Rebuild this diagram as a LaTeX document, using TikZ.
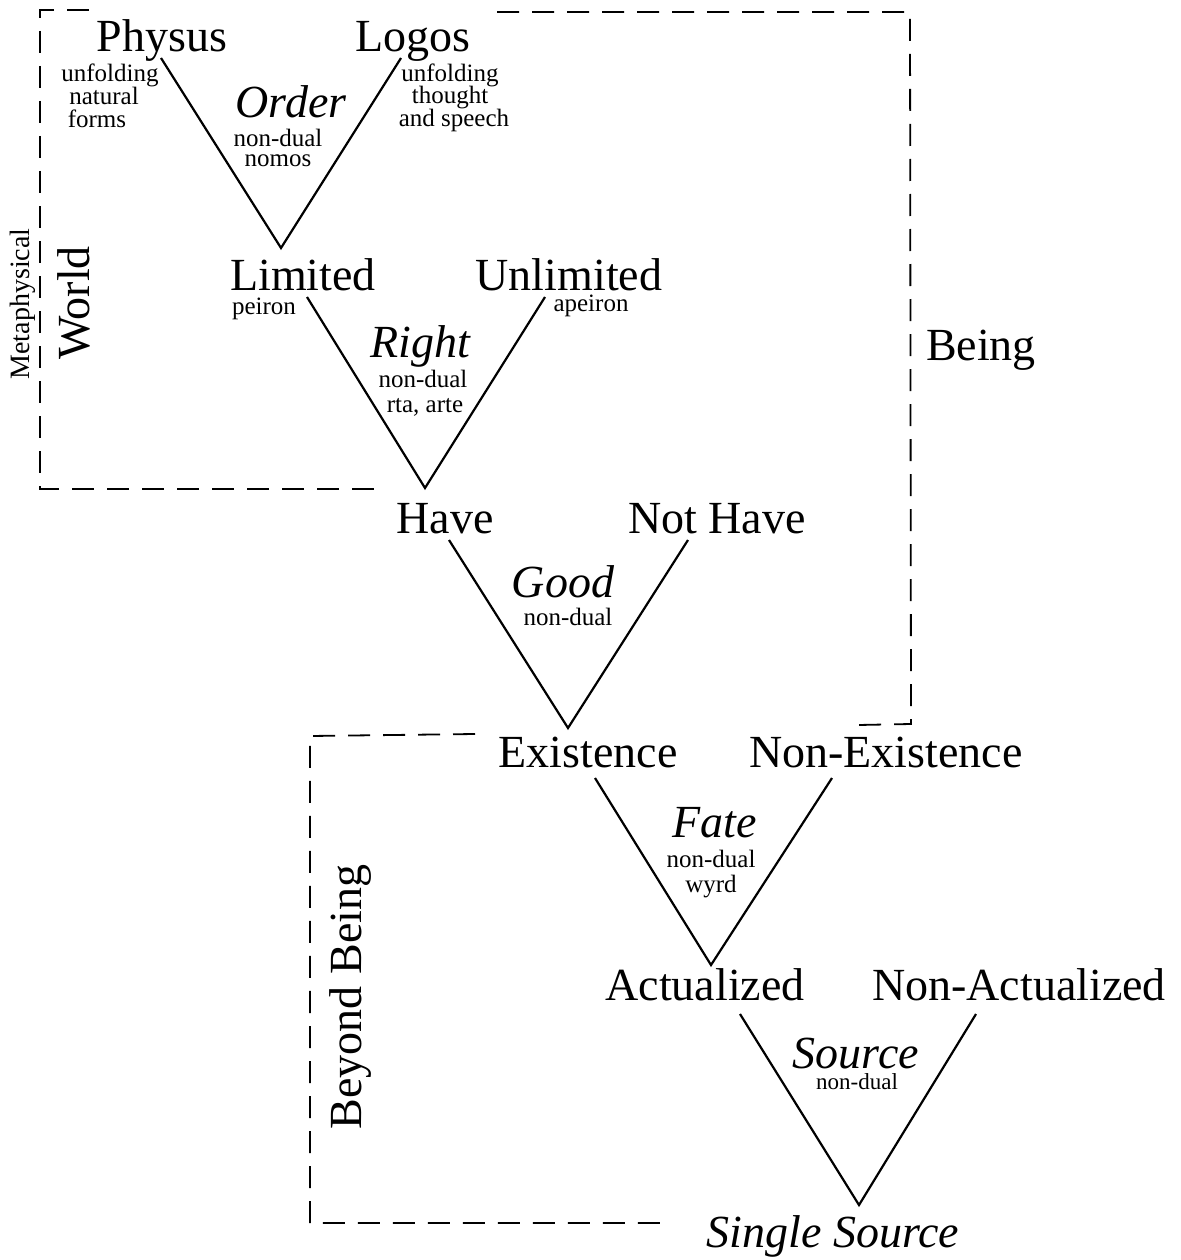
\documentclass[tikz,border=0pt]{standalone}
\usepackage{fontspec}
\setmainfont{Liberation Serif}
\begin{document}
\begin{tikzpicture}[x=1pt,y=-1pt,
  big/.style={font=\fontsize{46}{46}\selectfont, inner sep=0pt, anchor=base},
  bigit/.style={font=\fontsize{46}{46}\selectfont\itshape, inner sep=0pt, anchor=base},
  small/.style={font=\fontsize{25}{23}\selectfont, inner sep=0pt, anchor=base},
  nodepth/.style={text depth=0pt},
  vline/.style={line width=2.2pt, line join=miter},
  boxline/.style={line width=1.8pt, dash pattern=on 22pt off 13pt}]
\useasboundingbox[fill=white] (0,0) rectangle (1180,1260);

% ---- level 1
\node[big] (physus) at (162,52) {Physus};
\node[big] (logos) at (413,52) {Logos};
\node[small] (pa) at (110,82) {unfolding};
\node[small] (pb) at (104,105) {natural};
\node[small] (pc) at (97,128) {forms};
\node[small] (la) at (450,82) {unfolding};
\node[small] (lb) at (450,104) {thought};
\node[small] (lc) at (454,127) {and speech};
\node[bigit] (order) at (291,118) {Order};
\node[small] (oa) at (278,147) {non-dual};
\node[small] (ob) at (278,167) {nomos};
\coordinate (v1l) at (161,58);
\coordinate (v1) at (281,248);
\coordinate (v1r) at (401,58);
\draw[vline] (v1l) -- (v1) -- (v1r);

% ---- level 2
\node[big, nodepth] (limited) at (303,290) {Limited};
\node[big, nodepth] (unlimited) at (569,290) {Unlimited};
\node[small] (peiron) at (264,314) {peiron};
\node[small] (apeiron) at (591,311) {apeiron};
\node[bigit] (right) at (420,357) {Right};
\node[small] (ra) at (423,387) {non-dual};
\node[small] (rb) at (425,412) {rta, arte};
\coordinate (v2l) at (307,297);
\coordinate (v2) at (425,488);
\coordinate (v2r) at (545,297);
\draw[vline] (v2l) -- (v2) -- (v2r);

% ---- level 3
\node[big] (have) at (445,533) {Have};
\node[big] (nothave) at (717,533) {Not Have};
\node[bigit] (good) at (563,597) {Good};
\node[small] (ga) at (568,625) {non-dual};
\coordinate (v3l) at (449,540);
\coordinate (v3) at (568,728);
\coordinate (v3r) at (688,540);
\draw[vline] (v3l) -- (v3) -- (v3r);

% ---- level 4
\node[big] (existence) at (588,767) {Existence};
\node[big] (nonexistence) at (886,767) {Non-Existence};
\node[bigit] (fate) at (715,837) {Fate};
\node[small] (fa) at (711,867) {non-dual};
\node[small] (fb) at (711,892) {wyrd};
\coordinate (v4l) at (595,778);
\coordinate (v4) at (711,965);
\coordinate (v4r) at (832,778);
\draw[vline] (v4l) -- (v4) -- (v4r);

% ---- level 5
\node[big] (actualized) at (705,1000) {Actualized};
\node[big] (nonactualized) at (1019,1000) {Non-Actualized};
\node[bigit, nodepth] (source) at (856,1068) {Source};
\node[small, font=\fontsize{23}{23}\selectfont] (sa) at (857,1089) {non-dual};
\coordinate (v5l) at (740,1014);
\coordinate (v5) at (859,1205);
\coordinate (v5r) at (976,1014);
\draw[vline] (v5l) -- (v5) -- (v5r);
\node[bigit] (single) at (833,1247) {Single Source};

% ---- side labels
\node[font=\fontsize{28}{28}\selectfont, inner sep=0pt, rotate=90] (meta) at (23,304) {Metaphysical};
\node[font=\fontsize{46}{46}\selectfont, inner sep=0pt, rotate=90] (world) at (74,303) {World};
\node[big] (being) at (981,360) {Being};
\node[font=\fontsize{46}{46}\selectfont, inner sep=0pt, rotate=90] (beyond) at (350,997) {Beyond Being};

% ---- dashed boxes
\coordinate (wa) at (89,10);
\coordinate (wb) at (40,10);
\coordinate (wc) at (40,489);
\coordinate (wd) at (377,489);
\draw[boxline] (wa) -- (wb) -- (wc) -- (wd);
\coordinate (ba) at (497,12);
\coordinate (bb) at (910,12);
\coordinate (bc) at (911,724);
\coordinate (bd) at (858,725);
\draw[boxline] (ba) -- (bb) -- (bc) -- (bd);
\coordinate (ya) at (475,734);
\coordinate (yb) at (310,736);
\coordinate (yc) at (310,1223);
\coordinate (yd) at (665,1223);
\draw[boxline] (ya) -- (yb) -- (yc) -- (yd);
\end{tikzpicture}
\end{document}
